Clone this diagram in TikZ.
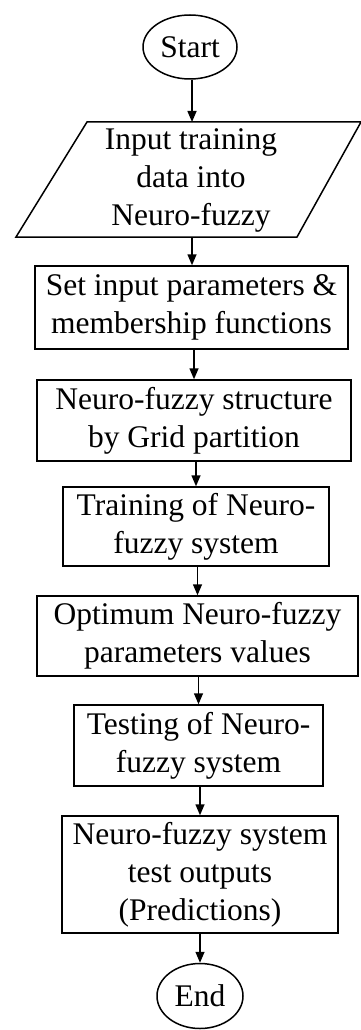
\documentclass[tikz,border=0pt]{standalone}
\usepackage{fontspec}
\setmainfont{Liberation Serif}
\usetikzlibrary{arrows.meta,shapes.geometric}
\begin{document}
\begin{tikzpicture}[x=1pt,y=-1pt,
  line width=1.5pt,
  every node/.style={font=\fontsize{31.5}{38}\selectfont, align=center, inner sep=0pt},
  box/.style={draw, rectangle},
  term/.style={draw, ellipse},
  flow/.style={-{Triangle[length=11pt,width=9pt]}, line width=1.5pt}
]
\useasboundingbox (0,0) rectangle (361,1030);
\node[term, minimum width=94pt, minimum height=64pt] (start) at (190,47) {Start};
\coordinate (p1) at (87,122);
\coordinate (p2) at (361,122);
\coordinate (p3) at (297,237);
\coordinate (p4) at (16,237);
\draw (p1) -- (p2) -- (p3) -- (p4) -- cycle;
\node (in) at (191,180) {Input training\\data into\\Neuro-fuzzy};
\coordinate (intop) at (192,122);
\coordinate (inbot) at (192,237);
\node[box, minimum width=313pt, minimum height=83pt] (b1) at (191.5,307.5) {Set input parameters \&\\membership functions};
\node[box, minimum width=314pt, minimum height=81pt] (b2) at (194,420.5) {Neuro-fuzzy structure\\by Grid partition};
\node[box, minimum width=266pt, minimum height=79pt] (b3) at (196,526.5) {Training of Neuro-\\fuzzy system};
\node[box, minimum width=321pt, minimum height=80pt] (b4) at (197.5,636) {Optimum Neuro-fuzzy\\parameters values};
\node[box, minimum width=249pt, minimum height=81pt] (b5) at (198.5,745.5) {Testing of Neuro-\\fuzzy system};
\node[box, minimum width=276pt, minimum height=117pt] (b6) at (200,874.5) {Neuro-fuzzy system\\test outputs\\(Predictions)};
\node[term, minimum width=86pt, minimum height=65pt] (end) at (200,996) {End};
\draw[flow] (intop |- start.south) -- (intop);
\draw[flow] (inbot) -- (inbot |- b1.north);
\draw[flow] (b2.north |- b1.south) -- (b2.north);
\draw[flow] (b3.north |- b2.south) -- (b3.north);
\draw[flow] (b4.north |- b3.south) -- (b4.north);
\draw[flow] (b5.north |- b4.south) -- (b5.north);
\draw[flow] (b6.north |- b5.south) -- (b6.north);
\draw[flow] (end.north |- b6.south) -- (end.north);
\end{tikzpicture}
\end{document}
